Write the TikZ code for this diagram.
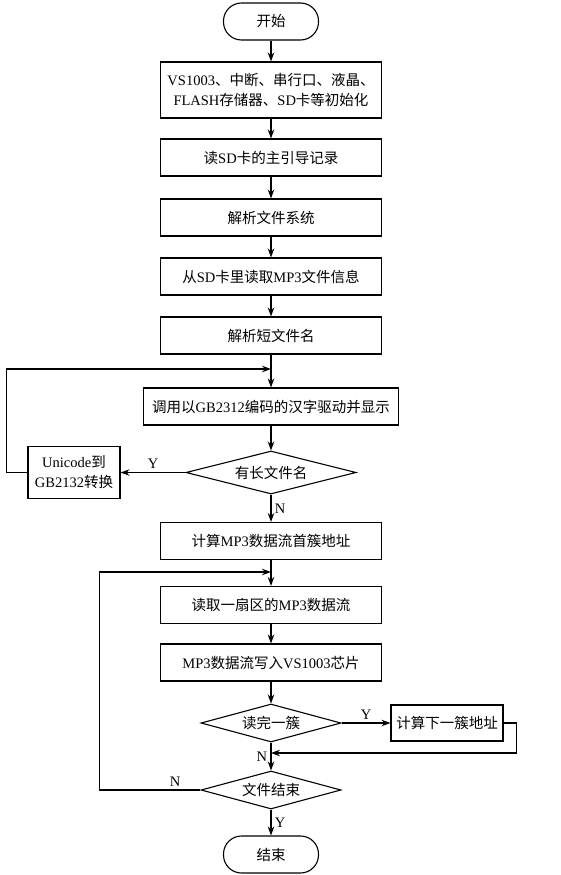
\documentclass[tikz,border=0pt]{standalone}
\usepackage{fontspec}
\setmainfont{Liberation Serif}
\newfontfamily\cjk{Noto Sans CJK SC}
\usetikzlibrary{positioning,shapes.geometric,arrows.meta}
\newcommand{\zh}[1]{{\cjk #1}}

\begin{document}
\begin{tikzpicture}[x=1pt, y=-1pt, line width=1.1pt, >={Stealth[length=9pt,width=6.5pt]},
            font=\fontsize{14.5}{20}\selectfont,
            proc/.style = {draw, rectangle, minimum width=221pt, minimum height=37pt, align=center, inner sep=2pt},
            term/.style = {draw, rectangle, rounded corners=18pt, minimum width=95pt, minimum height=37pt},
            dec/.style = {draw, diamond, aspect=4, inner sep=0pt, minimum width=140pt, minimum height=38pt}]
            \useasboundingbox (0,0) rectangle (560,875);
            \node[term] (start) at (271,21.5) {\zh{开始}};
            \node[proc, minimum height=56pt] (init) [below of=start, node distance=68.5pt] {VS1003\zh{、中断、串行口、液晶、}\\FLASH\zh{存储器、}SD\zh{卡等初始化}};
            \node[proc] (mbr) [below of=init, node distance=67.5pt] {\zh{读}SD\zh{卡的主引导记录}};
            \node[proc] (fs) [below of=mbr, node distance=60pt] {\zh{解析文件系统}};
            \node[proc] (info) [below of=fs, node distance=59pt] {\zh{从}SD\zh{卡里读取}MP3\zh{文件信息}};
            \node[proc] (sname) [below of=info, node distance=59pt] {\zh{解析短文件名}};
            \node[proc, minimum width=255pt] (show) [below of=sname, node distance=71pt] {\zh{调用以}GB2312\zh{编码的汉字驱动并显示}};
            \node[dec, minimum width=170pt, minimum height=43pt] (lname) [below of=show, node distance=66pt] {\zh{有长文件名}};
            \node[proc, minimum width=92pt, minimum height=52pt] (conv) [left of=lname, node distance=197pt] {Unicode\zh{到}\\GB2132\zh{转换}};
            \node[proc] (first) [below of=lname, node distance=68.5pt] {\zh{计算}MP3\zh{数据流首簇地址}};
            \node[proc] (sect) [below of=first, node distance=64pt] {\zh{读取一扇区的}MP3\zh{数据流}};
            \node[proc] (write) [below of=sect, node distance=57.5pt] {MP3\zh{数据流写入}VS1003\zh{芯片}};
            \node[dec] (clus) [below of=write, node distance=60.5pt] {\zh{读完一簇}};
            \node[proc, minimum width=112pt, minimum height=36pt] (next) [right of=clus, node distance=176pt] {\zh{计算下一簇地址}};
            \node[dec] (eof) [below of=clus, node distance=67pt] {\zh{文件结束}};
            \node[term] (stop) [below of=eof, node distance=64.5pt] {\zh{结束}};
            \coordinate[below of=sname, node distance=33.5pt] (j1);
            \coordinate[below of=first, node distance=31pt] (j2);
            \coordinate[below of=clus, node distance=30pt] (j3);
            \draw[->] (start) -- (init);
            \draw[->] (init) -- (mbr);
            \draw[->] (mbr) -- (fs);
            \draw[->] (fs) -- (info);
            \draw[->] (info) -- (sname);
            \draw[->] (sname) -- (show);
            \draw[->] (show) -- (lname);
            \draw[->] (lname) -- node[above, pos=0.5] {Y} (conv);
            \draw[->] (lname) -- node[right] {N} (first);
            \draw[->] (conv.west) -- ++(-21,0) |- (j1);
            \draw[->] (first) -- (sect);
            \draw[->] (sect) -- (write);
            \draw[->] (write) -- (clus);
            \draw[->] (clus) -- node[above] {Y} (next);
            \draw[->] (clus) -- node[left] {N} (eof);
            \draw[->] (next.east) -- ++(13,0) |- (j3);
            \draw[->] (eof.west) -- node[above, pos=0.25] {N} ++(-101,0) |- (j2);
            \draw[->] (eof) -- node[right] {Y} (stop);
        \end{tikzpicture}
\end{document}
